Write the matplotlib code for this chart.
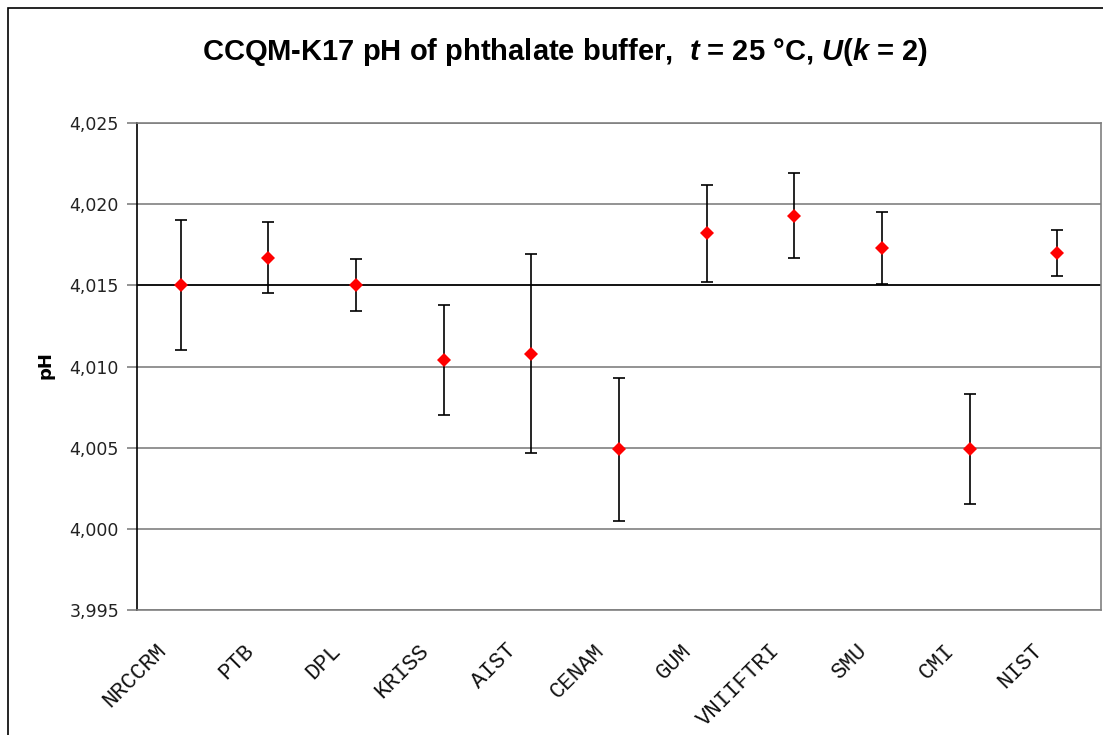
import matplotlib
matplotlib.use('Agg')
import matplotlib.pyplot as plt
import matplotlib.patches as mpatches
import matplotlib.transforms as mtransforms
from matplotlib.ticker import FuncFormatter, MultipleLocator

plt.rcParams['mathtext.fontset'] = 'custom'
plt.rcParams['mathtext.rm'] = 'Liberation Sans:bold'
plt.rcParams['mathtext.it'] = 'Liberation Sans:bold:italic'

# ---- data ----
labs = ['NRCCRM', 'PTB', 'DPL', 'KRISS', 'AIST', 'CENAM', 'GUM',
        'VNIIFTRI', 'SMU', 'CMI', 'NIST']
ph = [4.0150, 4.0167, 4.0150, 4.0104, 4.0108, 4.0049, 4.0182,
      4.0193, 4.0173, 4.0049, 4.0170]
unc = [0.0040, 0.0022, 0.0016, 0.0034, 0.0061, 0.0044, 0.0030,
       0.0026, 0.0022, 0.0034, 0.0014]
ref_value = 4.015
yticks = [3.995, 4.000, 4.005, 4.010, 4.015, 4.020, 4.025]

fig = plt.figure(figsize=(11.03, 7.35), dpi=100)
fig.patch.set_facecolor('white')

# outer chart frame (cropped at right and bottom)
frame = mpatches.Rectangle((8 / 1103, -0.1), 1.2, 1 - 8 / 735 + 0.1,
                           transform=fig.transFigure, fill=False,
                           edgecolor='black', linewidth=1.2)
fig.patches.append(frame)

ax = fig.add_axes([137 / 1103, 1 - 610 / 735, (1101 - 137) / 1103, (610 - 123) / 735])

xs = [i + 0.5 for i in range(len(labs))]

ax.set_ylim(yticks[0], yticks[-1])
ax.set_xlim(0, len(labs))
ax.yaxis.set_major_locator(MultipleLocator(0.005))
ax.yaxis.set_major_formatter(FuncFormatter(lambda v, p: f'{v:.3f}'.replace('.', ',')))

ax.grid(axis='y', color='#808080', linewidth=1.2, zorder=1)
ax.axhline(ref_value, color='black', linewidth=1.2, zorder=2)

ax.errorbar(xs, ph, yerr=unc, fmt='none', ecolor='black', elinewidth=1.2,
            capsize=4, capthick=1.2, zorder=3)
ax.plot(xs, ph, linestyle='none', marker='D', markersize=7,
        color='red', markeredgewidth=0, zorder=4)

for s in ['top', 'right', 'bottom']:
    ax.spines[s].set_color('#808080')
    ax.spines[s].set_linewidth(1.2)
ax.spines['left'].set_color('black')
ax.spines['left'].set_linewidth(1.2)

ax.tick_params(axis='y', length=7, width=1.2, color='#808080', pad=6,
               labelsize=12.5, labelcolor='#222222')
ax.set_xticks(xs)
ax.set_xticklabels(labs, rotation=45, ha='right', va='center',
                   rotation_mode='anchor', family='Liberation Mono', fontsize=16,
                   color='#111111')
ax.tick_params(axis='x', length=0, pad=27)
offset = mtransforms.ScaledTranslation(-18 / 100, 0, fig.dpi_scale_trans)
for lbl in ax.get_xticklabels():
    lbl.set_transform(lbl.get_transform() + offset)

fig.text(45 / 1103, 1 - 365 / 735, 'pH', rotation=90, ha='center', va='center',
         fontsize=13, fontweight='bold')

fig.text(0.512, 1 - 52 / 735,
         r'CCQM-K17 pH of phthalate buffer,  $t$ = 25 °C, $U$($k$ = 2)',
         ha='center', va='center', fontsize=21, fontweight='bold',
         family='Liberation Sans')

fig.savefig('out.png', dpi=100, facecolor='white')
